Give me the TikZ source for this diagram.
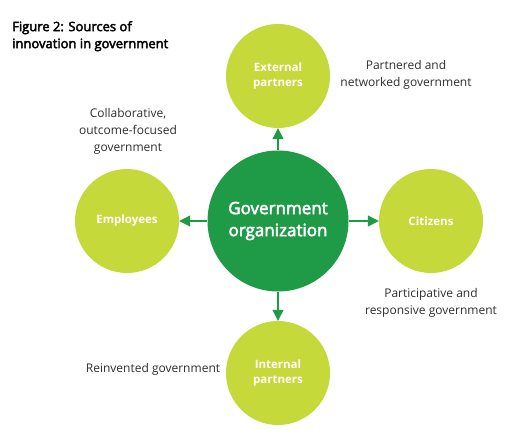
\documentclass[tikz,border=0pt]{standalone}
\usepackage{fontspec}
\setmainfont{Open Sans}
\newfontfamily\semibold[FakeBold=3]{Open Sans}
\usetikzlibrary{arrows.meta}
\definecolor{limegreen}{HTML}{C5D93A}
\definecolor{govgreen}{HTML}{1F9A47}
\definecolor{labelgray}{HTML}{2E2E2E}
\begin{document}
\begin{tikzpicture}[x=1pt, y=-1pt,
    source/.style={circle, fill=limegreen, minimum size=104pt, inner sep=0pt, align=center, text=white, font=\fontsize{11.5}{15}\selectfont\bfseries},
    core/.style={circle, fill=govgreen, minimum size=141pt, inner sep=0pt, align=center, text=white, font=\fontsize{17}{22}\semibold},
    note/.style={align=center, text=labelgray, font=\fontsize{12}{17}\selectfont},
    link/.style={draw=govgreen, line width=1.2pt, -{Triangle[length=11pt, width=11pt]}}
  ]
    \useasboundingbox (0,0) rectangle (516,438);

    % --- Titolo ---
    \node[anchor=north west, align=left, font=\fontsize{13}{17}\semibold, inner sep=0pt] (title) at (12,21) {Figure 2: Sources of\\innovation in government};

    % --- Cerchi ---
    \node[core] (gov) at (278,221) {Government\\organization};
    \node[source] (ext) at (278,76) {External\\partners};
    \node[source] (emp) at (127,221) {Employees};
    \node[source] (cit) at (431,221) {Citizens};
    \node[source] (int) at (278,373) {Internal\\partners};

    % --- Frecce ---
    \draw[link] (gov.north) -- (ext.south);
    \draw[link] (gov.west) -- (emp.east);
    \draw[link] (gov.east) -- (cit.west);
    \draw[link] (gov.south) -- (int.north);

    % --- Etichette ---
    \node[note] (collab) at (128,131) {Collaborative,\\outcome-focused\\government};
    \node[note] (partnered) at (406,75) {Partnered and\\networked government};
    \node[note] (particip) at (431,303) {Participative and\\responsive government};
    \node[note] (reinvent) at (153,369) {Reinvented government};
  \end{tikzpicture}
\end{document}
